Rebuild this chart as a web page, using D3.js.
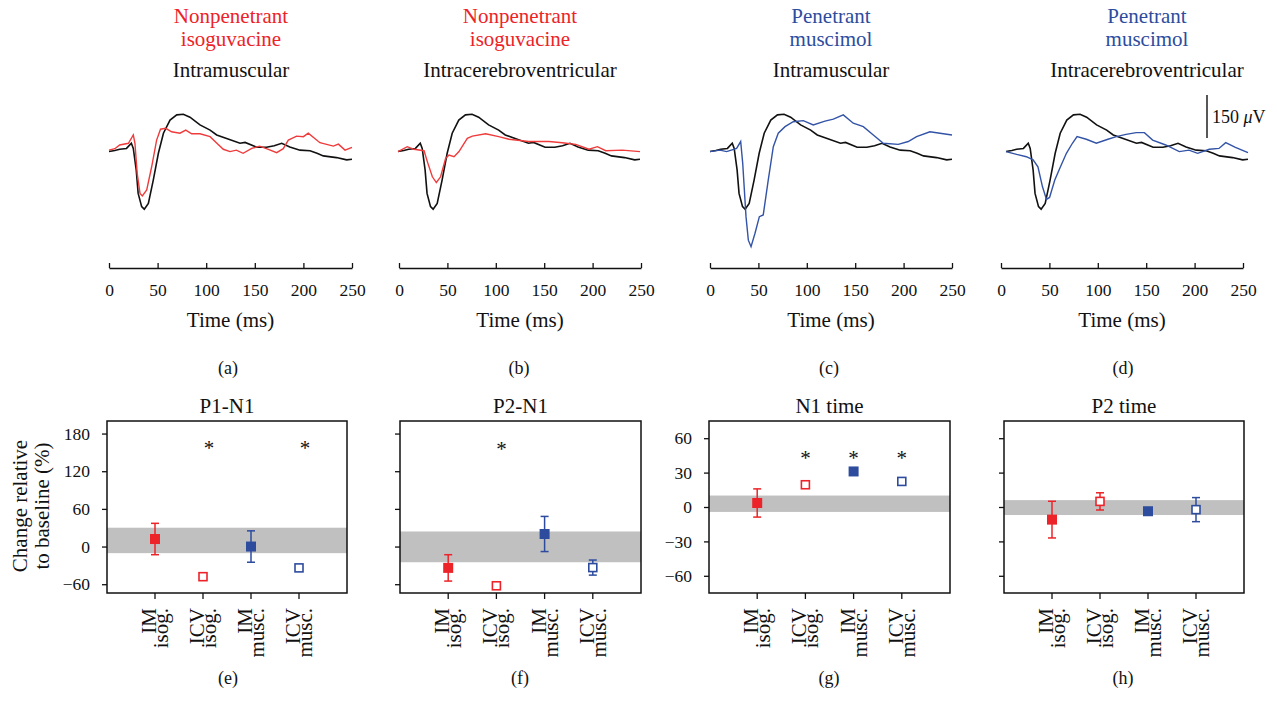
<!DOCTYPE html>
<html lang="en">
<head>
<meta charset="utf-8">
<title>Evoked potentials, isoguvacine vs muscimol</title>
<script src="https://cdn.jsdelivr.net/npm/d3@7"></script>
<style>
  body { margin: 0; background: #fff; }
  text { font-family: "Liberation Serif", "Times New Roman", serif; fill: #111; }
</style>
</head>
<body>
<div id="chart"></div>
<script>
// ---- data: traces as [time ms, amplitude uV] ----
var blackTrace = [[0,-2],[6,2],[11,6],[18,9],[23,27],[25,9],[28,-66],[30,-148],[33.6,-194],[36.3,-203],[40.5,-183],[45.6,-101],[50.8,-8],[56,62],[62.8,108],[69.7,126],[76.5,128],[83.3,118],[93.6,91],[104,73],[110.8,56],[121,44],[134.8,27],[140,30],[152,13],[162,13],[170,18],[177.7,27],[186,14],[196.5,3],[206.8,1],[214,-8],[220.5,-17],[234,-23],[244.5,-31],[250,-29]];
var redIM = [[0,3],[6,8],[11,21],[20,27],[25,56],[26.7,27],[29,-78],[31.9,-148],[34.3,-157],[38.8,-136],[43.9,-55],[49,38],[53,76],[58.3,79],[64.4,67],[73,62],[79,73],[85,60],[93.6,60],[104,50],[111,27],[117.6,6],[124.5,-2],[131,3],[138,-8],[146.8,9],[155,17],[164,6],[172.5,-6],[179.3,8],[184.5,38],[193,52],[200,50],[205,62],[217,29],[230.8,17],[236,24],[242.8,3],[250,13]];
var redICV = [[0,-2],[9.6,15],[16.5,6],[26.9,1],[30.3,-37],[35.5,-90],[39.6,-110],[44,-90],[49.2,-26],[52.7,-14],[57.9,-20],[63,-2],[71.6,44],[76.8,52],[90.6,60],[104,50],[114.7,41],[135,33],[156,33],[169.7,29],[183.6,23],[197.3,6],[206,15],[214.6,1],[231.7,3],[250,-2]];
var blueIM = [[0,-2],[10.3,3],[17.2,-2],[27.5,9],[31.7,33],[33.8,-43],[37.2,-229],[39.6,-311],[42.4,-334],[46.5,-287],[51,-229],[55,-223],[60.2,-101],[65.4,15],[70.5,62],[77.5,85],[86,102],[96.4,106],[106.7,91],[118.8,104],[127.4,111],[137.7,126],[148,97],[158.4,85],[168.7,56],[179,27],[194.5,23],[204.8,33],[213.4,50],[227.2,67],[237.6,62],[250,56]];
var blueICV = [[0,-2],[11,-12],[21,-20],[28,-31],[33,-55],[37.7,-125],[41.8,-169],[45,-162],[50.4,-101],[55.6,-60],[62.4,-8],[68.6,27],[73.4,50],[83,41],[93.3,27],[105.3,41],[114,50],[124,58],[134.5,64],[143,64],[151.5,38],[165,21],[179,-2],[189,3],[198,-8],[210,6],[220,9],[227,29],[237,13],[250,-6]];
var timeTicks = [0, 50, 100, 150, 200, 250];

// ---- data: summary panels ----
var groups = [["IM", "isog."], ["ICV", "isog."], ["IM", "musc."], ["ICV", "musc."]];
var groupFilled = [true, false, true, false];
var p1n1Mean = [12, -48, 0, -34], p1n1Err = [25, 0, 25, 0], p1n1Band = [-10.5, 30], p1n1Star = [0, 1, 0, 1];
var p2n1Mean = [-34, -62.5, 20, -33.5], p2n1Err = [21, 0, 28, 12], p2n1Band = [-25, 24], p2n1Star = [0, 1, 0, 0];
var n1Mean = [3.5, 19.4, 31, 22.3], n1Err = [12.3, 0, 0, 0], n1Band = [-4.3, 10], n1Star = [0, 1, 1, 1];
var p2Mean = [-11, 4.9, -3.7, -2.3], p2Err = [16, 7.5, 0, 10.5], p2Band = [-7, 6], p2Star = [0, 0, 0, 0];

var red = "#ec2328", blue = "#2d4c9e", redLine = "#ef3b3b", blueLine = "#3353a6";
var groupColor = [red, red, blue, blue];

var svg = d3.select("#chart").append("svg")
    .attr("width", 1277).attr("height", 718);

// ---- top row: traces ----
var yT = d3.scaleLinear().domain([0, 150]).range([151, 108]);

var topPanels = [
  {x0: 109, x1: 352, shift: 0, drug: ["Nonpenetrant", "isoguvacine"], dc: red, route: "Intramuscular", trace: redIM, lc: redLine, tx: 231, cap: "(a)", cx: 228},
  {x0: 399, x1: 641, shift: -1, drug: ["Nonpenetrant", "isoguvacine"], dc: red, route: "Intracerebroventricular", trace: redICV, lc: redLine, tx: 520, cap: "(b)", cx: 519},
  {x0: 710, x1: 952, shift: 0, drug: ["Penetrant", "muscimol"], dc: blue, route: "Intramuscular", trace: blueIM, lc: blueLine, tx: 831, cap: "(c)", cx: 829},
  {x0: 1001, x1: 1243, shift: 5, drug: ["Penetrant", "muscimol"], dc: blue, route: "Intracerebroventricular", trace: blueICV, lc: blueLine, tx: 1147, cap: "(d)", cx: 1123}
];

topPanels.forEach(function (p) {
  var x = d3.scaleLinear().domain([0, 250]).range([p.x0 + p.shift, p.x1 + p.shift]);
  var xa = d3.scaleLinear().domain([0, 250]).range([p.x0, p.x1]);
  var g = svg.append("g");

  g.append("text").attr("x", p.tx).attr("y", 23).attr("text-anchor", "middle")
    .style("font-size", "21px").style("fill", p.dc).text(p.drug[0]);
  g.append("text").attr("x", p.tx).attr("y", 46).attr("text-anchor", "middle")
    .style("font-size", "21px").style("fill", p.dc).text(p.drug[1]);
  g.append("text").attr("x", p.tx).attr("y", 77).attr("text-anchor", "middle")
    .style("font-size", "21px").text(p.route);

  var line = d3.line()
    .x(function (d) { return x(d[0]); })
    .y(function (d) { return yT(d[1]); });

  g.append("path").datum(blackTrace).attr("d", line)
    .attr("fill", "none").attr("stroke", "#111").attr("stroke-width", 1.6);
  g.append("path").datum(p.trace).attr("d", line)
    .attr("fill", "none").attr("stroke", p.lc).attr("stroke-width", 1.4);

  var ax = g.append("g").attr("transform", "translate(0,268)")
    .call(d3.axisBottom(xa).tickValues(timeTicks).tickSizeInner(-5).tickSizeOuter(0).tickPadding(16));
  ax.select(".domain").attr("stroke", "#111").attr("stroke-width", 1.3);
  ax.selectAll(".tick line").attr("stroke", "#111").attr("stroke-width", 1.3);
  ax.selectAll(".tick text").style("font-size", "17.5px")
    .style("font-family", "Liberation Serif, serif").attr("fill", "#111");

  g.append("text").attr("x", (p.x0 + p.x1) / 2).attr("y", 327).attr("text-anchor", "middle")
    .style("font-size", "21px").text("Time (ms)");
  g.append("text").attr("x", p.cx).attr("y", 374).attr("text-anchor", "middle")
    .style("font-size", "18px").text(p.cap);
});

// scale bar
svg.append("line").attr("x1", 1207).attr("x2", 1207)
  .attr("y1", yT(45)).attr("y2", yT(195)).attr("stroke", "#111").attr("stroke-width", 1.4);
var sb = svg.append("text").attr("x", 1212).attr("y", 123).style("font-size", "18px");
sb.append("tspan").text("150 ");
sb.append("tspan").style("font-style", "italic").text("\u03bc");
sb.append("tspan").text("V");

// ---- bottom row: change relative to baseline ----
var boxTop = 421, boxBottom = 593;
var botPanels = [
  {x0: 107, x1: 347, dom: [-74, 200], ticks: [-60, 0, 60, 120, 180], labels: true, mean: p1n1Mean, err: p1n1Err, band: p1n1Band, star: p1n1Star, starV: 164, starDx: 6, title: "P1-N1", cap: "(e)", cx: 228},
  {x0: 400, x1: 641, dom: [-74, 200], ticks: [-60, 0, 60, 120, 180], labels: false, mean: p2n1Mean, err: p2n1Err, band: p2n1Band, star: p2n1Star, starV: 162, starDx: 5, title: "P2-N1", cap: "(f)", cx: 520},
  {x0: 709, x1: 950, dom: [-75, 75], ticks: [-60, -30, 0, 30, 60], labels: true, mean: n1Mean, err: n1Err, band: n1Band, star: n1Star, starV: 46, starDx: 0, title: "N1 time", cap: "(g)", cx: 829},
  {x0: 1004, x1: 1244, dom: [-75, 75], ticks: [-60, -30, 0, 30, 60], labels: false, mean: p2Mean, err: p2Err, band: p2Band, star: p2Star, starV: 46, starDx: 0, title: "P2 time", cap: "(h)", cx: 1123}
];

botPanels.forEach(function (p) {
  var x = d3.scaleLinear().domain([0, 5]).range([p.x0, p.x1]);
  var y = d3.scaleLinear().domain(p.dom).range([boxBottom, boxTop]);
  var g = svg.append("g");

  g.append("text").attr("x", (p.x0 + p.x1) / 2).attr("y", 413).attr("text-anchor", "middle")
    .style("font-size", "21px").text(p.title);

  g.append("rect").attr("x", p.x0).attr("width", p.x1 - p.x0)
    .attr("y", y(p.band[1])).attr("height", y(p.band[0]) - y(p.band[1]))
    .attr("fill", "#c0c0c0");

  g.append("rect").attr("x", p.x0).attr("y", boxTop)
    .attr("width", p.x1 - p.x0).attr("height", boxBottom - boxTop)
    .attr("fill", "none").attr("stroke", "#111").attr("stroke-width", 1.5);

  var ay = g.append("g").attr("transform", "translate(" + p.x0 + ",0)")
    .call(d3.axisLeft(y).tickValues(p.ticks).tickSizeInner(5).tickSizeOuter(0).tickPadding(12));
  ay.select(".domain").remove();
  ay.selectAll(".tick line").attr("stroke", "#111").attr("stroke-width", 1.3);
  ay.selectAll(".tick text").style("font-size", "17.5px")
    .style("font-family", "Liberation Serif, serif").attr("fill", "#111")
    .style("display", p.labels ? null : "none");

  groups.forEach(function (grp, i) {
    var cx = x(i + 1);
    g.append("line").attr("x1", cx).attr("x2", cx).attr("y1", boxBottom).attr("y2", boxBottom + 6)
      .attr("stroke", "#111").attr("stroke-width", 1.3);
    var lab = g.append("text").attr("transform", "translate(" + cx + "," + (boxBottom + 15) + ") rotate(-90)")
      .attr("text-anchor", "end").style("font-size", "21px");
    lab.append("tspan").attr("x", 0).attr("y", 1).text(grp[0]);
    lab.append("tspan").attr("x", 0).attr("y", 13).text(grp[1]);

    var m = p.mean[i], e = p.err[i], c = groupColor[i];
    if (e > 0) {
      g.append("line").attr("x1", cx).attr("x2", cx).attr("y1", y(m - e)).attr("y2", y(m + e))
        .attr("stroke", c).attr("stroke-width", 1.5);
      [m - e, m + e].forEach(function (v) {
        g.append("line").attr("x1", cx - 4).attr("x2", cx + 4).attr("y1", y(v)).attr("y2", y(v))
          .attr("stroke", c).attr("stroke-width", 1.5);
      });
    }
    if (groupFilled[i]) {
      g.append("rect").attr("x", cx - 5).attr("y", y(m) - 5).attr("width", 10).attr("height", 10)
        .attr("fill", c);
    } else {
      g.append("rect").attr("x", cx - 4).attr("y", y(m) - 4).attr("width", 8).attr("height", 8)
        .attr("fill", "#fff").attr("stroke", c).attr("stroke-width", 1.6);
    }
    if (p.star[i]) {
      g.append("text").attr("x", cx + p.starDx).attr("y", y(p.starV) + 11)
        .attr("text-anchor", "middle").style("font-size", "21px").text("*");
    }
  });

  g.append("text").attr("x", p.cx).attr("y", 684).attr("text-anchor", "middle")
    .style("font-size", "18px").text(p.cap);
});

var yl = svg.append("text").attr("transform", "translate(0,506) rotate(-90)")
  .attr("text-anchor", "middle").style("font-size", "21px");
yl.append("tspan").attr("x", 0).attr("y", 27).text("Change relative");
yl.append("tspan").attr("x", 0).attr("y", 49).text("to baseline (%)");
</script>
</body>
</html>
